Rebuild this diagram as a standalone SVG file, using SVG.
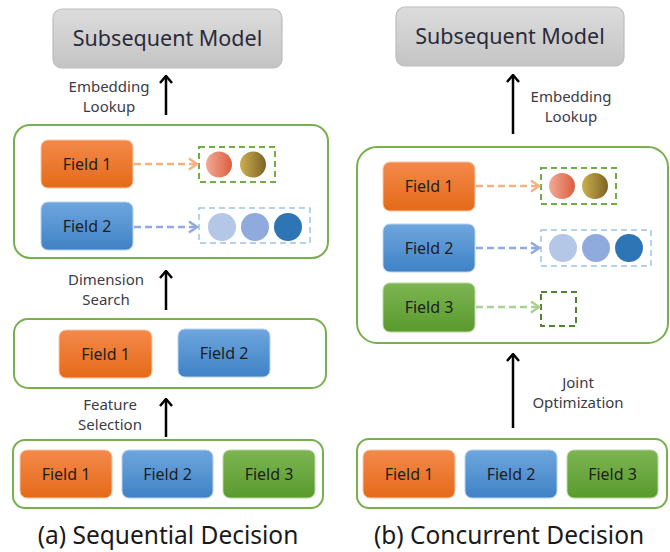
<svg xmlns="http://www.w3.org/2000/svg" width="670" height="552" viewBox="0 0 670 552">
<defs>
<linearGradient id="gGray" x1="0" y1="0" x2="0" y2="1"><stop offset="0" stop-color="#dcdcdc"/><stop offset="1" stop-color="#c4c4c4"/></linearGradient>
<linearGradient id="gOr" x1="0" y1="0" x2="0" y2="1"><stop offset="0" stop-color="#f3894a"/><stop offset="1" stop-color="#e56a18"/></linearGradient>
<linearGradient id="gBl" x1="0" y1="0" x2="0" y2="1"><stop offset="0" stop-color="#6ea6de"/><stop offset="1" stop-color="#3f82c6"/></linearGradient>
<linearGradient id="gGr" x1="0" y1="0" x2="0" y2="1"><stop offset="0" stop-color="#7cb552"/><stop offset="1" stop-color="#5a9a2e"/></linearGradient>
<linearGradient id="gC1" x1="0" y1="0" x2="1" y2="0"><stop offset="0" stop-color="#f0aa98"/><stop offset="1" stop-color="#dc5e3e"/></linearGradient>
<linearGradient id="gC2" x1="0" y1="0" x2="1" y2="0"><stop offset="0" stop-color="#cbb050"/><stop offset="1" stop-color="#7e6226"/></linearGradient>
<marker id="mBlack" viewBox="0 0 10 14" refX="8.5" refY="7" markerWidth="10" markerHeight="14" markerUnits="userSpaceOnUse" orient="auto"><path d="M1.5,1 L8.5,7 L1.5,13" fill="none" stroke="#000" stroke-width="2.5"/></marker>
<marker id="mOr" viewBox="0 0 12 14" refX="10" refY="7" markerWidth="12" markerHeight="14" markerUnits="userSpaceOnUse" orient="auto"><path d="M2,1.5 L10,7 L2,12.5" fill="none" stroke="#f4b183" stroke-width="2.5"/></marker>
<marker id="mBl" viewBox="0 0 12 14" refX="10" refY="7" markerWidth="12" markerHeight="14" markerUnits="userSpaceOnUse" orient="auto"><path d="M2,1.5 L10,7 L2,12.5" fill="none" stroke="#8faadc" stroke-width="2.5"/></marker>
<marker id="mGr" viewBox="0 0 12 14" refX="10" refY="7" markerWidth="12" markerHeight="14" markerUnits="userSpaceOnUse" orient="auto"><path d="M2,1.5 L10,7 L2,12.5" fill="none" stroke="#a9d18e" stroke-width="2.5"/></marker>
</defs>
<style>
text{font-family:"Noto Sans","Open Sans","DejaVu Sans",sans-serif;}
.model rect{fill:url(#gGray);stroke:#bcbcbc;stroke-width:1.2;}
.model text{font-size:21.5px;fill:#2b2b3b;text-anchor:middle;}
.cont{fill:#fff;stroke:#78b04e;stroke-width:2;}
.f text{font-size:16px;fill:#1e1e1e;text-anchor:middle;}
.or{fill:url(#gOr);stroke:#f6c8a8;stroke-width:1;}
.bl{fill:url(#gBl);stroke:#b8d2ee;stroke-width:1;}
.gr{fill:url(#gGr);stroke:#b8d8a0;stroke-width:1;}
.lbl{font-size:15px;fill:#3c3c46;text-anchor:middle;}
.cap{font-size:24.5px;fill:#1a1a1a;text-anchor:middle;}
.arr{stroke:#000;stroke-width:2.5;fill:none;marker-end:url(#mBlack);}
.dOr{stroke:#f4b183;stroke-width:2.5;stroke-dasharray:7 4;fill:none;marker-end:url(#mOr);}
.dBl{stroke:#8faadc;stroke-width:2.5;stroke-dasharray:7 4;fill:none;marker-end:url(#mBl);}
.dGr{stroke:#a9d18e;stroke-width:2.5;stroke-dasharray:7 4;fill:none;marker-end:url(#mGr);}
.boxG{fill:none;stroke:#70ad47;stroke-width:2;stroke-dasharray:6 4;}
.boxB{fill:none;stroke:#9dc3e6;stroke-width:1.5;stroke-dasharray:6 4;}
.boxDG{fill:none;stroke:#548235;stroke-width:2;stroke-dasharray:6 4;}
</style>

<!-- containers -->
<g id="containers">
<rect class="cont" x="14" y="125" width="314" height="133" rx="16"/>
<rect class="cont" x="14" y="319" width="312" height="69" rx="14"/>
<rect class="cont" x="13" y="440" width="310" height="68" rx="12"/>
<rect class="cont" x="357" y="147" width="311" height="196" rx="20"/>
<rect class="cont" x="357" y="439" width="310" height="69" rx="12"/>
</g>

<!-- Left (a) -->
<g id="a-model" class="model"><rect x="53" y="9" width="229" height="59" rx="9"/><text x="167.5" y="46">Subsequent Model</text></g>
<g id="a-top-f1" class="f"><rect class="or" x="41" y="140" width="92" height="48" rx="7"/><text x="87" y="170">Field 1</text></g>
<g id="a-top-f2" class="f"><rect class="bl" x="41" y="202" width="92" height="48" rx="7"/><text x="87" y="232">Field 2</text></g>
<g id="a-emb1"><rect class="boxG" x="199" y="147" width="76" height="35"/><circle cx="219" cy="164.5" r="13" fill="url(#gC1)"/><circle cx="253" cy="164.5" r="13" fill="url(#gC2)"/></g>
<g id="a-emb2"><rect class="boxB" x="199" y="208" width="111" height="35"/><circle cx="222" cy="227" r="14" fill="#b4c7e7"/><circle cx="255" cy="227" r="14" fill="#8faadc"/><circle cx="288" cy="227" r="14" fill="#2e75b6"/></g>
<g id="a-mid-f1" class="f"><rect class="or" x="59" y="330" width="93" height="48" rx="7"/><text x="105.5" y="360">Field 1</text></g>
<g id="a-mid-f2" class="f"><rect class="bl" x="178" y="329" width="92" height="48" rx="7"/><text x="224" y="359">Field 2</text></g>
<g id="a-bot-f1" class="f"><rect class="or" x="20" y="450" width="92" height="48" rx="7"/><text x="66" y="480">Field 1</text></g>
<g id="a-bot-f2" class="f"><rect class="bl" x="122" y="450" width="91" height="48" rx="7"/><text x="167.5" y="480">Field 2</text></g>
<g id="a-bot-f3" class="f"><rect class="gr" x="223" y="450" width="92" height="48" rx="7"/><text x="269" y="480">Field 3</text></g>
<text class="lbl" x="109" y="92">Embedding</text><text class="lbl" x="109" y="112">Lookup</text>
<text class="lbl" x="106" y="285">Dimension</text><text class="lbl" x="106" y="305">Search</text>
<text class="lbl" x="110" y="410">Feature</text><text class="lbl" x="110" y="430">Selection</text>
<text class="cap" x="168" y="544">(a) Sequential Decision</text>

<!-- Right (b) -->
<g id="b-model" class="model"><rect x="396" y="7" width="228" height="59" rx="9"/><text x="510" y="44">Subsequent Model</text></g>
<g id="b-top-f1" class="f"><rect class="or" x="383" y="162" width="92" height="49" rx="7"/><text x="429" y="192">Field 1</text></g>
<g id="b-top-f2" class="f"><rect class="bl" x="383" y="224" width="92" height="48" rx="7"/><text x="429" y="254">Field 2</text></g>
<g id="b-top-f3" class="f"><rect class="gr" x="383" y="283" width="92" height="49" rx="7"/><text x="429" y="313">Field 3</text></g>
<g id="b-emb1"><rect class="boxG" x="541" y="168" width="75" height="36"/><circle cx="562" cy="186" r="13" fill="url(#gC1)"/><circle cx="595" cy="186" r="13" fill="url(#gC2)"/></g>
<g id="b-emb2"><rect class="boxB" x="541" y="230" width="110" height="36"/><circle cx="563" cy="248" r="14" fill="#b4c7e7"/><circle cx="596" cy="248" r="14" fill="#8faadc"/><circle cx="629" cy="248" r="14" fill="#2e75b6"/></g>
<g id="b-emb3"><rect class="boxDG" x="541" y="292" width="35" height="34"/></g>
<g id="b-bot-f1" class="f"><rect class="or" x="363" y="450" width="92" height="48" rx="7"/><text x="409" y="480">Field 1</text></g>
<g id="b-bot-f2" class="f"><rect class="bl" x="465" y="450" width="92" height="48" rx="7"/><text x="511" y="480">Field 2</text></g>
<g id="b-bot-f3" class="f"><rect class="gr" x="567" y="450" width="91" height="48" rx="7"/><text x="612.5" y="480">Field 3</text></g>
<text class="lbl" x="571" y="102">Embedding</text><text class="lbl" x="571" y="122">Lookup</text>
<text class="lbl" x="578" y="388">Joint</text><text class="lbl" x="578" y="408">Optimization</text>
<text class="cap" x="509" y="544">(b) Concurrent Decision</text>

<!-- connectors -->
<g id="connectors">
<line class="arr" x1="166" y1="115" x2="166" y2="76"/>
<line class="arr" x1="166" y1="310" x2="166" y2="271"/>
<line class="arr" x1="166" y1="437" x2="166" y2="399"/>
<line class="arr" x1="513" y1="134" x2="513" y2="75"/>
<line class="arr" x1="513" y1="428" x2="513" y2="354"/>
<line class="dOr" x1="134" y1="164" x2="197" y2="164"/>
<line class="dBl" x1="134" y1="227" x2="197" y2="227"/>
<line class="dOr" x1="476" y1="186" x2="539" y2="186"/>
<line class="dBl" x1="476" y1="248" x2="539" y2="248"/>
<line class="dGr" x1="476" y1="307" x2="539" y2="307"/>
</g>
</svg>
